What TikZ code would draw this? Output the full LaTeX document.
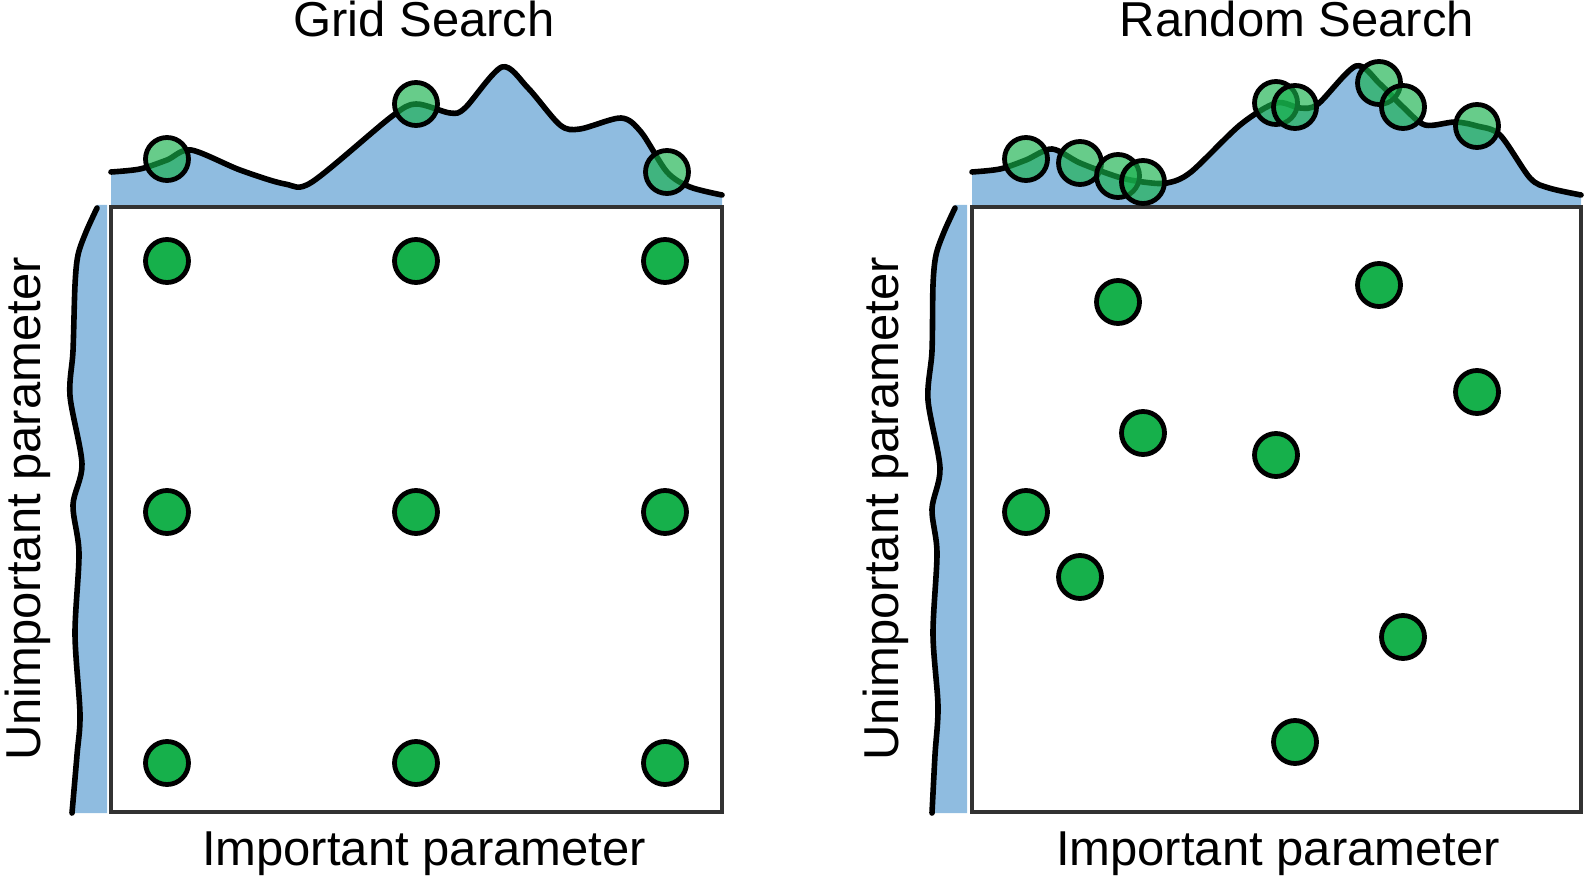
\documentclass[tikz,border=0pt]{standalone}
\usepackage{fontspec}
\setmainfont{Liberation Sans}
\definecolor{densblue}{RGB}{143,188,224}
\definecolor{dotgreen}{RGB}{22,176,75}
\definecolor{boxgray}{RGB}{50,50,50}

% marginal densities (pixel coordinates, y downwards)
\def\gridtop{plot[smooth] coordinates {(111,172) (140,169) (167,160) (191,150) (240,170) (285,184) (312,182) (391,117) (416,104) (450,113) (465,108) (502,67) (528,88) (560,125) (580,129) (621,118) (641,132) (667,172) (690,187) (722,195)}}
\def\randtop{plot[smooth] coordinates {(972,172) (1000,169) (1026,160) (1052,149) (1080,163) (1118,177) (1143,182) (1167,183) (1191,172) (1240,125) (1276,103) (1300,108) (1318,104) (1356,66) (1380,84) (1403,107) (1425,125) (1455,122) (1477,126) (1500,135) (1530,178) (1549,188) (1581,195)}}
\def\gridside{plot[smooth] coordinates {(97,208) (86,232) (78,255) (75,285) (73,351) (70,396) (82,464) (73,505) (79,553) (75,634) (80,714) (77,755) (72,813)}}
\def\randside{plot[smooth] coordinates {(955,208) (944,232) (936,255) (933,285) (932,351) (928,400) (940,468) (932,509) (937,553) (933,634) (938,706) (935,755) (932,813)}}

\begin{document}
\begin{tikzpicture}[
    x = 0.5pt,
    y = -0.5pt,
    font = \fontsize{24.5}{29}\selectfont,
    ]

    \tikzstyle{searchdot}=[
    circle,
    draw = black,
    line width = 2.4pt,
    fill = dotgreen,
    minimum size = 21.5pt,
    inner sep = 0pt,
    ]
    \tikzstyle{margindot}=[searchdot, fill opacity = 0.65]
    \tikzstyle{density}=[line width = 2.8pt, line join = round, line cap = round]
    \tikzstyle{panel}=[draw = boxgray, line width = 2pt]

    \useasboundingbox (0,0) rectangle (1584,881);

    % Grid Search
    \fill[densblue] \gridtop -- (722,207) -- (111,207) -- cycle;
    \fill[densblue] \gridside -- (107,813) -- (107,205) -- (97,205) -- cycle;
    \draw[density] \gridtop;
    \draw[density] \gridside;
    \draw[panel] (111,207) rectangle (722,812);

    \foreach \x/\i in {167/1, 416/2, 665/3}
      \foreach \y/\j in {261/1, 512/2, 763/3}
        \node[searchdot] (g\i\j) at (\x,\y) {};

    \node[margindot] (gm1) at (167,159) {};
    \node[margindot] (gm2) at (416,104) {};
    \node[margindot] (gm3) at (667,172) {};

    \node[anchor=base] (gridtitle) at (424,37) {Grid Search};
    \node[anchor=base] (gridx) at (424,865) {Important parameter};
    \node[anchor=base, rotate=90] (gridy) at (40,509) {Unimportant parameter};

    % Random Search
    \fill[densblue] \randtop -- (1581,207) -- (972,207) -- cycle;
    \fill[densblue] \randside -- (967,813) -- (967,205) -- (955,205) -- cycle;
    \draw[density] \randtop;
    \draw[density] \randside;
    \draw[panel] (972,207) rectangle (1581,812);

    \foreach \x/\y/\n in {1118/302/1, 1379/285/2, 1477/392/3, 1143/433/4, 1276/455/5,
                          1026/512/6, 1080/577/7, 1403/637/8, 1295/742/9}
      \node[searchdot] (r\n) at (\x,\y) {};

    \foreach \x/\y/\n in {1026/159/1, 1080/163/2, 1118/176/3, 1143/182/4, 1276/103/5,
                          1295/107/6, 1379/83/7, 1403/107/8, 1477/126/9}
      \node[margindot] (rm\n) at (\x,\y) {};

    \node[anchor=base] (randtitle) at (1297,37) {Random Search};
    \node[anchor=base] (randx) at (1278,865) {Important parameter};
    \node[anchor=base, rotate=90] (randy) at (898,509) {Unimportant parameter};
  \end{tikzpicture}
\end{document}
